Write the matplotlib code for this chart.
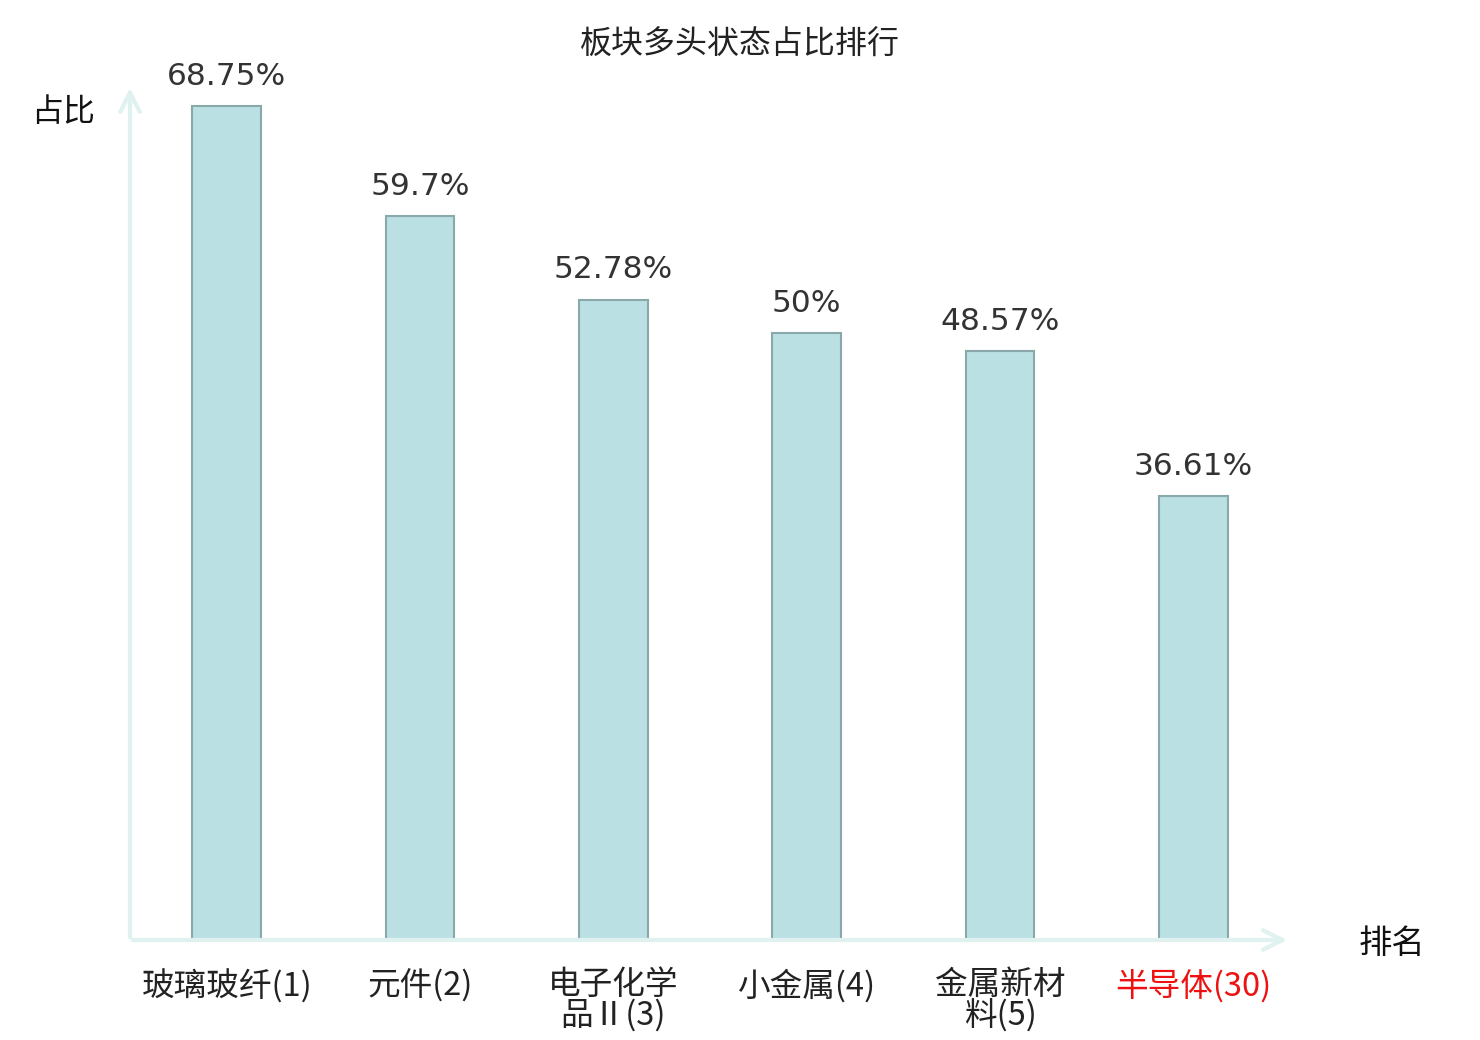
import matplotlib.pyplot as plt
import numpy as np

plt.rcParams['font.family'] = ['Noto Sans CJK SC', 'DejaVu Sans']

categories = ['玻璃玻纤(1)', '元件(2)', '电子化学\n品Ⅱ(3)', '小金属(4)', '金属新材\n料(5)', '半导体(30)']
values = [68.75, 59.7, 52.78, 50, 48.57, 36.61]
value_labels = ['68.75%', '59.7%', '52.78%', '50%', '48.57%', '36.61%']
label_colors = ['#222222'] * 5 + ['#ee1111']

bar_face = '#bbe0e3'
bar_edge = '#8aa8aa'
axis_col = '#dff2f0'

fig = plt.figure(figsize=(14.8, 10.4), dpi=100)
# axes box in pixels: left 130, right 1290, bottom 940 (from top), top 90
ax = fig.add_axes([130/1480, 100/1040, 1160/1480, 855/1040])

x = np.arange(len(categories))
ax.bar(x, values, width=0.355, color=bar_face, edgecolor=bar_edge, linewidth=1.5, zorder=2)

ax.set_xlim(-0.5, 5.5)
ax.set_ylim(0, 70.07 * 855 / 850)

for s in ax.spines.values():
    s.set_visible(False)
ax.set_yticks([])
ax.set_xticks(x)
ax.set_xticklabels(categories, fontsize=23.5, linespacing=0.9)
for t, c in zip(ax.get_xticklabels(), label_colors):
    t.set_color(c)
ax.tick_params(axis='x', length=0, pad=21)

# axis lines with open arrow heads
ax.annotate('', xy=(1.0, 0), xytext=(0, 0), xycoords='axes fraction',
            arrowprops=dict(arrowstyle='->', color=axis_col, lw=3, mutation_scale=35))
ax.annotate('', xy=(0, 1.0), xytext=(0, 0), xycoords='axes fraction',
            arrowprops=dict(arrowstyle='->', color=axis_col, lw=3, mutation_scale=35))

for xi, v, lab in zip(x, values, value_labels):
    ax.annotate(lab, xy=(xi, v), xytext=(0, 11), textcoords='offset points',
                ha='center', va='bottom', fontsize=22.5, color='#333333',
                family='DejaVu Sans')

fig.text(740/1480, 1 - 45/1040, '板块多头状态占比排行', ha='center', va='center',
         fontsize=23, color='#222222')
fig.text(63/1480, 1 - 112/1040, '占比', ha='center', va='center', fontsize=23, color='#111111')
fig.text(1392/1480, 1 - 943/1040, '排名', ha='center', va='center', fontsize=24, color='#111111')

fig.savefig('out.png', dpi=100)
